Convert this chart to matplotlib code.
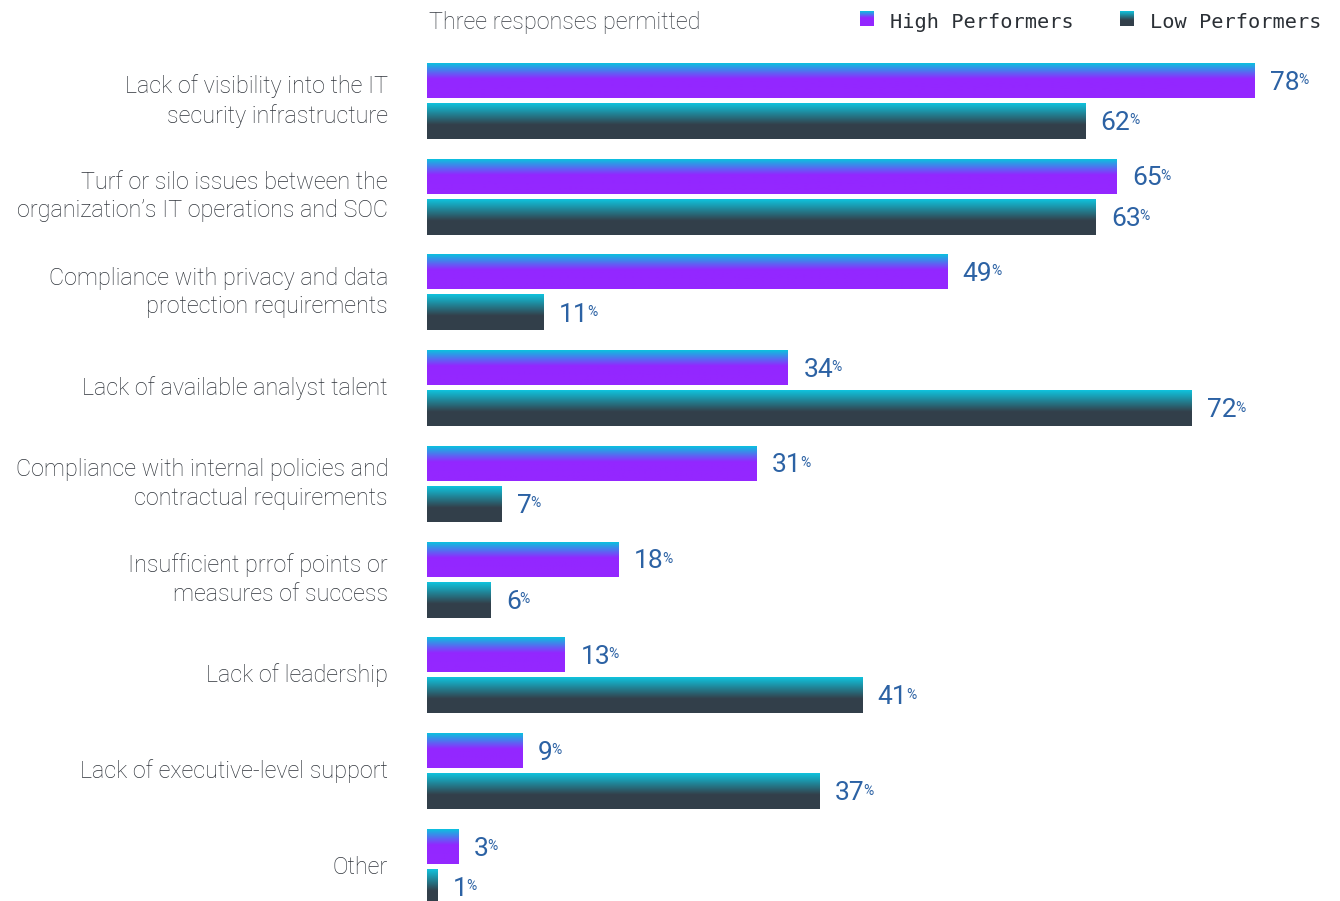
import numpy as np
import matplotlib
matplotlib.use("Agg")
import matplotlib.pyplot as plt
from matplotlib.colors import LinearSegmentedColormap

categories = [
    "Lack of visibility into the IT\nsecurity infrastructure",
    "Turf or silo issues between the\norganization\u2019s IT operations and SOC",
    "Compliance with privacy and data\nprotection requirements",
    "Lack of available analyst talent",
    "Compliance with internal policies and\ncontractual requirements",
    "Insufficient prrof points or\nmeasures of success",
    "Lack of leadership",
    "Lack of executive-level support",
    "Other",
]
high_performers = [78, 65, 49, 34, 31, 18, 13, 9, 3]
low_performers = [62, 63, 11, 72, 7, 6, 41, 37, 1]

W, H = 1340, 901
fig = plt.figure(figsize=(W / 100, H / 100), dpi=100)
# axes in pixel-like units: y grows downward, x is percent
left_px = 427
px_per_pct = 10.615
ax = fig.add_axes([left_px / W, 0, 1 - left_px / W, 1])
ax.set_xlim(0, (W - left_px) / px_per_pct)
ax.set_ylim(H, 0)
ax.axis("off")

cyan = "#0cc0df"
high_cmap = LinearSegmentedColormap.from_list(
    "high", [(0, cyan), (0.45, "#9327ff"), (1, "#9527ff")])
low_cmap = LinearSegmentedColormap.from_list(
    "low", [(0, "#10c2dc"), (0.6, "#33404b"), (1, "#323f4a")])
grad = np.linspace(0, 1, 64).reshape(-1, 1)

label_color = "#2c62a4"
text_color = "#2e333a"


def gradient_bar(x, top, height, cmap):
    ax.imshow(grad, cmap=cmap, aspect="auto", interpolation="bilinear",
              extent=(0, x, top + height, top), zorder=2)


def value_label(x, ymid):
    t = ax.text(x + 1.45, ymid + 2, str(x), fontsize=19, color=label_color,
                family="Roboto", va="center", ha="left")
    ax.annotate("%", xy=(1, 0.9), xycoords=t, xytext=(-1.0, 0),
                textcoords="offset points", fontsize=10, color=label_color,
                family="Roboto", va="top", ha="left")


group_step = 95.75
for i, cat in enumerate(categories):
    top = 63 + group_step * i
    gradient_bar(high_performers[i], top, 35, high_cmap)
    value_label(high_performers[i], top + 17.5)
    low_top = top + 40
    gradient_bar(low_performers[i], low_top, 36, low_cmap)
    value_label(low_performers[i], low_top + 18)
    fig.text(388 / W, 1 - (top + 38) / H, cat, ha="right", va="center",
             fontsize=16.8, color=text_color, family="Roboto",
             fontweight="light", linespacing=1.3)

fig.text(429 / W, 1 - 22 / H, "Three responses permitted", ha="left",
         va="center", fontsize=16.8, color="#363b42", family="Roboto",
         fontweight="light")

legend_items = [("High Performers", high_cmap, 860), ("Low Performers", low_cmap, 1120)]
for name, cmap, lx in legend_items:
    lax = fig.add_axes([lx / W, 1 - 26 / H, 14 / W, 15 / H])
    lax.imshow(grad, cmap=cmap, aspect="auto", interpolation="bilinear")
    lax.axis("off")
    fig.text((lx + 30) / W, 1 - 22 / H, name, ha="left", va="center",
             fontsize=14.6, color="#2b3036", family="DejaVu Sans Mono")

fig.savefig("out.png", dpi=100)
